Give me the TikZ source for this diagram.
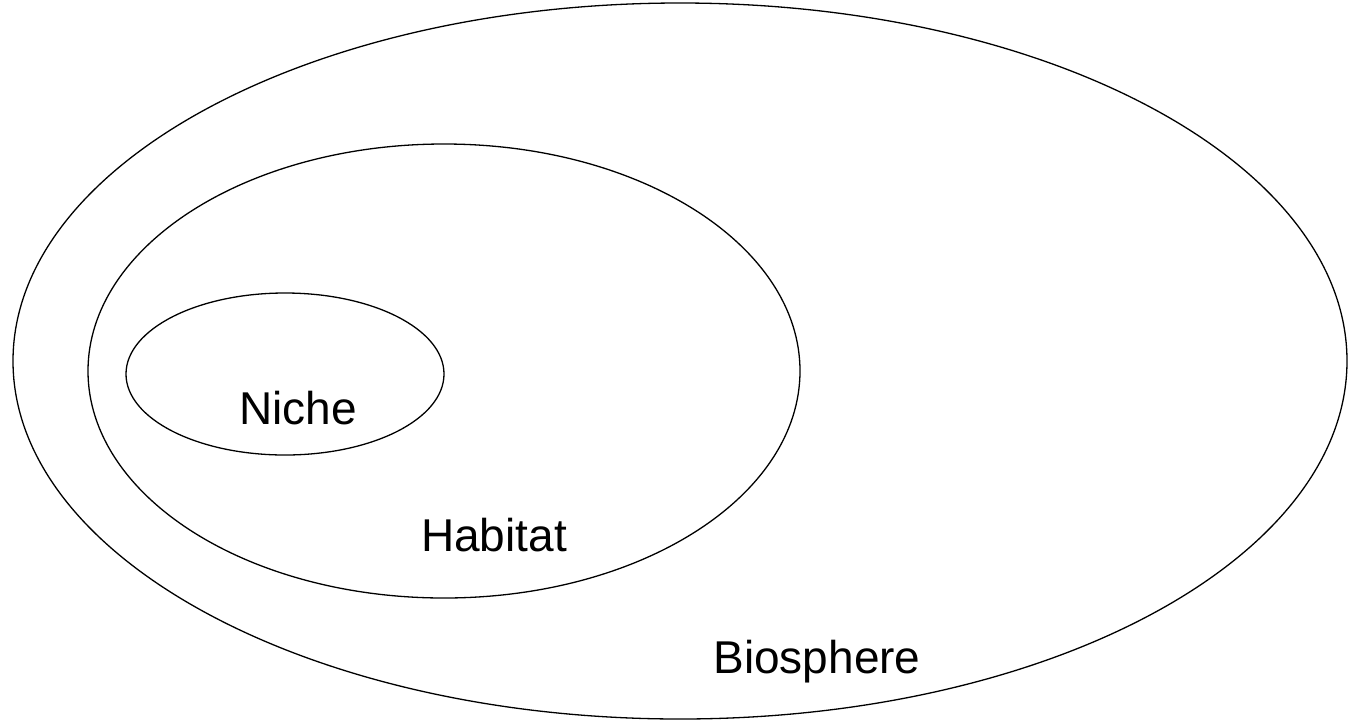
\documentclass[tikz,border=0pt]{standalone}
\usepackage{fontspec}
\setmainfont{Liberation Sans}
\usetikzlibrary{shapes.geometric}
\begin{document}
\begin{tikzpicture}[x=1pt,y=-1pt,
  ring/.style={draw=black,line width=1.3pt},
  lbl/.style={anchor=base,inner sep=0pt,font=\fontsize{46}{50}\selectfont}]
\useasboundingbox (0,0) rectangle (1349,721);
% nested ellipses
\draw[ring] (680,361) ellipse [x radius=667, y radius=358];
\draw[ring] (444,371) ellipse [x radius=356, y radius=227];
\draw[ring] (285,374) ellipse [x radius=159, y radius=81];
% labels
\node[lbl] (niche) at (298,424) {Niche};
\node[lbl] (habitat) at (494,551) {Habitat};
\node[lbl] (bio) at (817,673) {Biosphere};
\end{tikzpicture}
\end{document}
